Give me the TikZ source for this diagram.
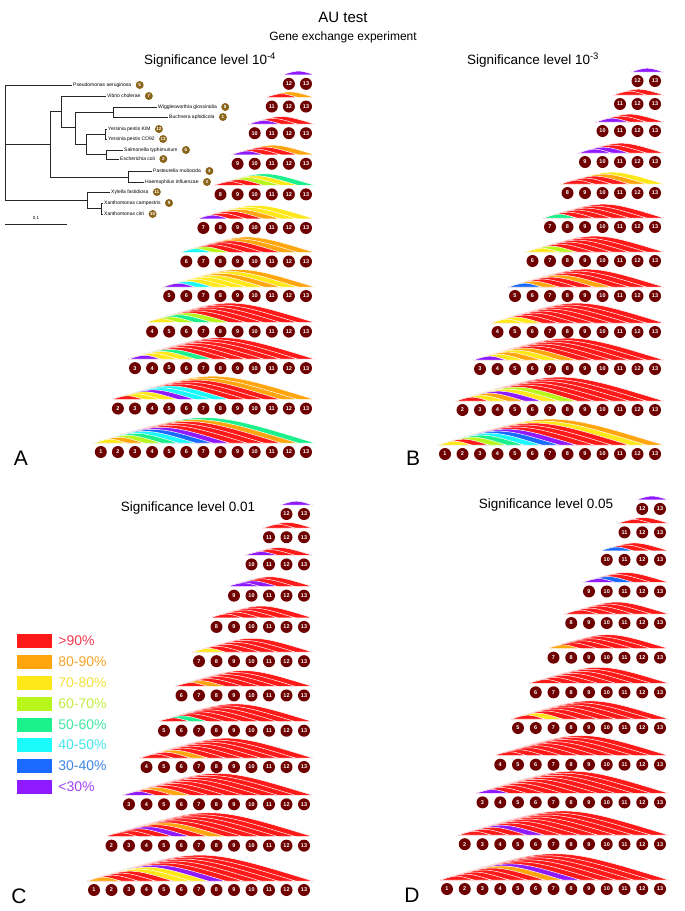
\documentclass[tikz,border=0pt]{standalone}
\usepackage{fontspec}
\setmainfont{Liberation Sans}
\usepackage{tikz}
\usetikzlibrary{positioning}
\definecolor{maroon}{HTML}{6E0000}
\definecolor{badgebrown}{HTML}{8B6519}
\definecolor{cR}{HTML}{FF1A1A}
\definecolor{cO}{HTML}{FFA50D}
\definecolor{cY}{HTML}{FFE81A}
\definecolor{cL}{HTML}{B8F51A}
\definecolor{cG}{HTML}{1AF08C}
\definecolor{cC}{HTML}{1AFAFA}
\definecolor{cB}{HTML}{1A6AFF}
\definecolor{cP}{HTML}{901AFF}
\definecolor{tR}{HTML}{F03A50}
\definecolor{tO}{HTML}{F5A528}
\definecolor{tY}{HTML}{F2E040}
\definecolor{tL}{HTML}{C2EC40}
\definecolor{tG}{HTML}{40E8A0}
\definecolor{tC}{HTML}{40E6EC}
\definecolor{tB}{HTML}{3F86E8}
\definecolor{tP}{HTML}{A040F0}
\tikzset{
  taxon/.style={circle, fill=maroon, inner sep=0pt, minimum size=12pt, text=white, font=\bfseries\fontsize{5.5}{5.5}\selectfont},
  badge/.style={circle, fill=badgebrown, inner sep=0pt, minimum size=8pt, text=white, font=\bfseries\fontsize{4.5}{4.5}\selectfont},
  leaf/.style={anchor=west, inner sep=1pt, font=\fontsize{5}{5}\selectfont},
  branch/.style={draw=black!85, line width=0.8pt},
  band/.style={draw=white, line width=0.5pt},
  legbox/.style={draw=white, minimum width=36pt, minimum height=15pt, inner sep=0pt},
  legtext/.style={font=\fontsize{14}{14}\selectfont, inner sep=0pt, anchor=west},
  heading/.style={font=\fontsize{13.5}{14}\selectfont},
  letter/.style={font=\fontsize{21}{21}\selectfont}
}
% #1 panel, #2 x of circle 13, #3 y of bottom row, #4 circle gap, #5 row stretch,
% #6 band colours of each row, outermost band first
\newcommand{\aupanel}[6]{%
  \foreach \bands [count=\k] in {#6} {
    \pgfmathsetmacro{\dy}{{0,44,85,122,158,193,227,261,292,323,350,373}[\k-1]}
    \pgfmathsetmacro{\ry}{#3-#5*\dy}
    \pgfmathsetmacro{\lx}{#2-(13-\k)*#4-7}
    \pgfmathsetmacro{\by}{\ry-9}
    \foreach \c [count=\n] in \bands {
      \pgfmathsetmacro{\rx}{#2-(\n-1)*#4+9}
      \pgfmathsetmacro{\mx}{(\lx+\rx)/2}
      \pgfmathsetmacro{\cy}{\by-0.153*(\rx-\lx)}
      \fill[band, fill=c\c] (\lx,\by) .. controls (\mx,\cy) .. (\rx,\by) -- cycle;
    }
    \foreach \i in {\k,...,13} {
      \node[taxon] (#1-\k-\i) at ({#2-(13-\i)*#4},\ry) {\i};
    }
  }
}

\begin{document}
\begin{tikzpicture}[x=1pt, y=-1pt]
  \useasboundingbox (0,0) rectangle (685,911);

  \node[font=\fontsize{15}{15}\selectfont] (title) at (343,17) {AU test};
  \node[font=\fontsize{12}{12}\selectfont] (subtitle) at (343,37) {Gene exchange experiment};
  \node[heading] (headA) at (210,60) {Significance level 10\textsuperscript{-4}};
  \node[heading] (headB) at (533,60) {Significance level 10\textsuperscript{-3}};
  \node[heading] (headC) at (188,508) {Significance level 0.01};
  \node[heading] (headD) at (546,505) {Significance level 0.05};
  \node[letter] (letA) at (21,458) {A};
  \node[letter] (letB) at (413,458) {B};
  \node[letter] (letC) at (19,896) {C};
  \node[letter] (letD) at (412,895) {D};

  % tree
  \coordinate (root) at (5,143);
  \coordinate (n1) at (50,144);
  \coordinate (n2) at (61,111);
  \coordinate (n3) at (75,127);
  \coordinate (n4) at (113,112);
  \coordinate (n5) at (86,144);
  \coordinate (n6) at (105,134);
  \coordinate (n7) at (106,154);
  \coordinate (n8) at (128,177);
  \coordinate (n9) at (87,200);
  \coordinate (n10) at (101,208);
  \node[leaf] (pse) at (72,85) {Pseudomonas aeruginosa};
  \node[leaf] (vib) at (106,96) {Vibrio cholerae};
  \node[leaf] (wig) at (157,107) {Wigglesworthia glossinidia};
  \node[leaf] (bu) at (168,117) {Buchnera aphidicola};
  \node[leaf] (ykim) at (107,129) {Yersinia pestis KIM};
  \node[leaf] (yco) at (107,139) {Yersinia pestis CO92};
  \node[leaf] (sal) at (123,150) {Salmonella typhimurium};
  \node[leaf] (eco) at (119,159) {Escherichia coli};
  \node[leaf] (pas) at (152,171) {Pasteurella multocida};
  \node[leaf] (hae) at (144,182) {Haemophilus influenzae};
  \node[leaf] (xyl) at (110,192) {Xylella fastidiosa};
  \node[leaf] (xca) at (103,203) {Xanthomonas campestris};
  \node[leaf] (xci) at (103,214) {Xanthomonas citri};
  \foreach \t/\b in {pse/5, vib/7, wig/8, bu/1, ykim/12, yco/13, sal/6, eco/2, pas/4, hae/3, xyl/11, xca/9, xci/10}
    \node[badge, right=3pt of \t] (\t-b) {\b};

  \draw[branch] (root) |- (pse.west);
  \draw[branch] (root) |- (n1);
  \draw[branch] (root) |- (n9);
  \draw[branch] (n1) |- (n2);
  \draw[branch] (n1) |- (n8);
  \draw[branch] (n2) |- (vib.west);
  \draw[branch] (n2) |- (n3);
  \draw[branch] (n3) |- (n4);
  \draw[branch] (n3) |- (n5);
  \draw[branch] (n4) |- (wig.west);
  \draw[branch] (n4) |- (bu.west);
  \draw[branch] (n5) |- (n6);
  \draw[branch] (n5) |- (n7);
  \draw[branch] (n6) |- (ykim.west);
  \draw[branch] (n6) |- (yco.west);
  \draw[branch] (n7) |- (sal.west);
  \draw[branch] (n7) |- (eco.west);
  \draw[branch] (n8) |- (pas.west);
  \draw[branch] (n8) |- (hae.west);
  \draw[branch] (n9) |- (xyl.west);
  \draw[branch] (n9) |- (n10);
  \draw[branch] (n10) |- (xca.west);
  \draw[branch] (n10) |- (xci.west);
  \coordinate (bar1) at (5,224);
  \coordinate (bar2) at (67,224);
  \draw[branch] (bar1) -- node[above=1pt, font=\fontsize{4.5}{4.5}\selectfont] (barlabel) {0.1} (bar2);

  \aupanel{A}{306}{452}{17.1}{0.987}{
    {G,O,R,R,R,P,B,C,G,L,O,Y},{O,O,R,R,R,C,C,P,Y,Y,R},{R,R,R,R,R,R,G,Y,Y,P},
    {R,R,R,R,R,L,G,L,Y},{O,Y,O,Y,Y,Y,C,P},{O,O,R,R,R,L,C},{Y,Y,O,R,R,P},
    {G,Y,L,R,R},{O,R,R,P},{R,R,P},{O,R},{P}}
  \aupanel{B}{655}{454}{17.5}{1}{
    {O,Y,R,R,R,P,B,C,G,L,R,Y},{R,R,R,R,R,L,Y,P,O,Y,R},{R,R,R,R,R,O,Y,O,Y,P},
    {R,R,R,R,R,R,R,Y,Y},{R,R,R,O,R,R,O,B},{R,R,R,R,R,L,Y},{R,R,R,R,R,G},
    {Y,O,R,R,R},{R,R,P,P},{R,R,P},{R,R},{P}}
  \aupanel{C}{304}{890}{17.5}{1.008}{
    {R,R,R,R,R,P,Y,Y,R,R,R,O},{R,R,R,R,R,O,R,P,R,R,R},{R,R,R,R,R,R,R,O,R,P},
    {R,R,R,R,R,R,O,R,R},{R,R,R,R,R,R,G,R},{R,R,R,R,R,O,R},{R,R,R,R,R,Y},
    {R,R,R,R,R},{R,R,P,P},{R,R,P},{R,R},{P}}
  \aupanel{D}{660}{889}{17.75}{1.019}{
    {R,R,R,R,R,P,O,R,R,R,R,R},{R,R,R,R,R,R,R,P,R,R,R},{R,R,R,R,R,R,R,R,R,P},
    {R,R,R,R,R,R,R,R,R},{R,R,R,R,R,R,Y,R},{R,R,R,R,R,R,R},{R,R,R,R,R,O},
    {R,R,R,R,R},{R,R,B,P},{R,R,B},{R,R},{P}}

  % legend
  \foreach \c/\t [count=\i] in {R/{>90\%}, O/{80-90\%}, Y/{70-80\%}, L/{60-70\%}, G/{50-60\%}, C/{40-50\%}, B/{30-40\%}, P/{<30\%}} {
    \node[legbox, fill=c\c] (key\i) at (34,{641+(\i-1)*20.8}) {};
    \node[legtext, text=t\c, right=6pt of key\i] (keytext\i) {\t};
  }
\end{tikzpicture}
\end{document}
